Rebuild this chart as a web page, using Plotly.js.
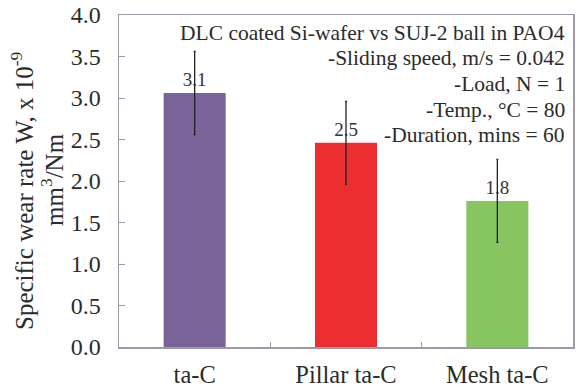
<!DOCTYPE html>
<html>
<head>
<meta charset="utf-8">
<script src="https://cdn.plot.ly/plotly-3.0.1.min.js"></script>
<style>
  html, body { margin: 0; padding: 0; background: #fff; }
  #chart { width: 576px; height: 392px; }
</style>
</head>
<body>
<div id="chart"></div>
<script>
// Specific wear rate of DLC coatings (x 10^-9 mm^3/Nm)
const coatings = ['ta-C', 'Pillar ta-C', 'Mesh ta-C'];
const wearRate = [3.06, 2.46, 1.76];
const wearError = [0.5, 0.5, 0.5];
const barColors = ['#7a6499', '#ed2e31', '#88c460'];
const yTicks = [0, 0.5, 1, 1.5, 2, 2.5, 3, 3.5, 4];
const yTitleLines = ['Specific wear rate W, x 10<sup>-9</sup>', 'mm<sup>3</sup>/Nm'];
const testConditions = [
  'DLC coated Si-wafer vs SUJ-2 ball in PAO4',
  '-Sliding speed, m/s = 0.042',
  '-Load, N = 1',
  '-Temp., °C = 80',
  '-Duration, mins = 60'
];

const serif = 'Liberation Serif, Times New Roman, serif';
const axisGrey = '#9c9ca8';
const textColor = '#2b2b2b';

// plot box in pixels, used to place the free-standing texts
const box = { l: 119, r: 3, t: 15, b: 45 };
const plotW = 576 - box.l - box.r;
const plotH = 392 - box.t - box.b;
const px = x => (x - box.l) / plotW;
const py = y => (392 - box.b - y) / plotH;

const trace = {
  type: 'bar',
  x: coatings,
  y: wearRate,
  width: 0.41,
  marker: { color: barColors, line: { width: 0 } },
  error_y: { type: 'data', array: wearError, visible: true, color: '#222', thickness: 1.3, width: 1 },
  text: wearRate.map(v => v.toFixed(1)),
  textposition: 'outside',
  textfont: { family: serif, size: 19, color: '#333' },
  cliponaxis: false,
  hoverinfo: 'none'
};

const conditionNotes = testConditions.map((line, i) => ({
  xref: 'paper', yref: 'paper',
  x: px(567), y: py(33 + i * 25.5),
  xanchor: 'right', yanchor: 'middle',
  text: line,
  showarrow: false,
  font: { family: serif, size: 21.5, color: textColor }
}));

const yTitleNotes = [
  { text: yTitleLines[0], x: px(22), y: py(191) },
  { text: yTitleLines[1], x: px(52), y: py(180) }
].map(t => ({
  xref: 'paper', yref: 'paper',
  x: t.x, y: t.y,
  xanchor: 'center', yanchor: 'middle',
  textangle: -90,
  text: t.text,
  showarrow: false,
  font: { family: serif, size: 25, color: textColor }
}));

const layout = {
  width: 576,
  height: 392,
  margin: box,
  paper_bgcolor: '#fff',
  plot_bgcolor: '#fff',
  showlegend: false,
  font: { family: serif, color: textColor },
  xaxis: {
    type: 'category',
    range: [-0.5, 2.5],
    showline: true,
    linecolor: axisGrey,
    linewidth: 1.5,
    mirror: true,
    ticks: 'inside',
    tickson: 'boundaries',
    ticklen: 5,
    tickcolor: axisGrey,
    ticklabelstandoff: 5,
    tickfont: { family: serif, size: 24.5, color: textColor },
    showgrid: false,
    zeroline: false
  },
  yaxis: {
    range: [0, 4],
    tickvals: yTicks,
    ticktext: yTicks.map(v => v.toFixed(1)),
    showline: true,
    linecolor: axisGrey,
    linewidth: 1.5,
    mirror: true,
    ticks: 'inside',
    ticklen: 6,
    tickcolor: axisGrey,
    ticklabelstandoff: 12,
    tickfont: { family: serif, size: 24, color: textColor },
    showgrid: false,
    zeroline: false
  },
  annotations: conditionNotes.concat(yTitleNotes)
};

Plotly.newPlot('chart', [trace], layout, { displayModeBar: false, staticPlot: true });
</script>
</body>
</html>
